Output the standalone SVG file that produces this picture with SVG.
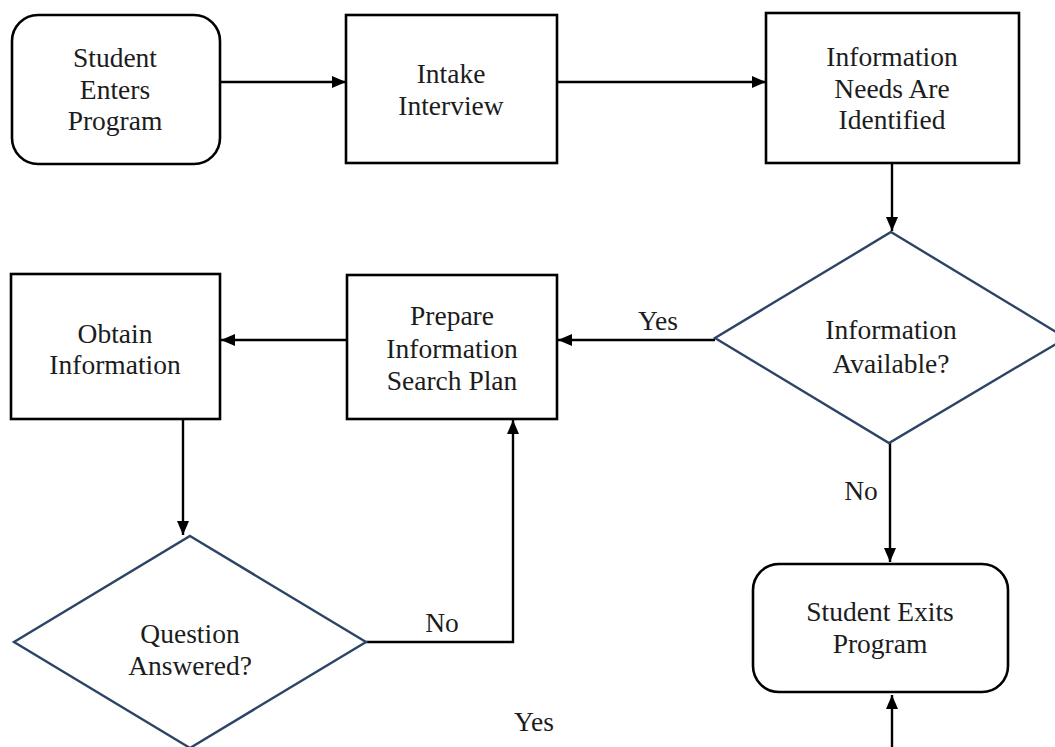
<svg xmlns="http://www.w3.org/2000/svg" width="1055" height="747" viewBox="0 0 1055 747">
  <defs>
    <marker id="arrow" markerUnits="userSpaceOnUse" markerWidth="14" markerHeight="12" refX="14" refY="6" orient="auto">
      <path d="M0,0 L14,6 L0,12 z" fill="#000"/>
    </marker>
    <style>
      .box { fill: #fff; stroke: #000; stroke-width: 2.6; }
      .dec { fill: #fff; stroke: #2c4567; stroke-width: 2.4; stroke-linejoin: miter; }
      .lbl { font-family: 'Liberation Serif', 'Times New Roman', serif; font-size: 27.5px; fill: #1c1c1c; text-anchor: middle; }
      .wire { fill: none; stroke: #000; stroke-width: 2.4; marker-end: url(#arrow); }
    </style>
  </defs>
  <rect width="1055" height="747" fill="#fff"/>

  <!-- flow lines and their branch labels -->
  <g id="connectors">
    <path class="wire" d="M220,82 H346"/>
    <path class="wire" d="M557,82 H766"/>
    <path class="wire" d="M892,163 V231"/>
    <path class="wire" d="M715,340 H558"/>
    <path class="wire" d="M346,340 H221"/>
    <path class="wire" d="M183,419 V535"/>
    <path class="wire" d="M366,642 H513 V420"/>
    <path class="wire" d="M890,443 V562"/>
    <path class="wire" d="M190,747 V775 H892 V695"/>
    <text class="lbl" x="658" y="330">Yes</text>
    <text class="lbl" x="442" y="632">No</text>
    <text class="lbl" x="861" y="500">No</text>
    <text class="lbl" x="534" y="731">Yes</text>
  </g>

  <g id="student-enters">
    <rect class="box" x="12" y="15" width="208" height="149" rx="26" ry="26"/>
    <text class="lbl" x="115" y="67">Student</text>
    <text class="lbl" x="115" y="99">Enters</text>
    <text class="lbl" x="115" y="130">Program</text>
  </g>

  <g id="intake-interview">
    <rect class="box" x="346" y="15" width="211" height="148"/>
    <text class="lbl" x="451" y="83">Intake</text>
    <text class="lbl" x="451" y="115">Interview</text>
  </g>

  <g id="needs-identified">
    <rect class="box" x="766" y="13" width="253" height="150"/>
    <text class="lbl" x="892" y="66">Information</text>
    <text class="lbl" x="892" y="98">Needs Are</text>
    <text class="lbl" x="892" y="129">Identified</text>
  </g>

  <g id="info-available">
    <polygon class="dec" points="891,232 1066,338 889,443 715,338"/>
    <text class="lbl" x="891" y="339">Information</text>
    <text class="lbl" x="891" y="373">Available?</text>
  </g>

  <g id="search-plan">
    <rect class="box" x="347" y="275" width="210" height="144"/>
    <text class="lbl" x="452" y="325">Prepare</text>
    <text class="lbl" x="452" y="358">Information</text>
    <text class="lbl" x="452" y="390">Search Plan</text>
  </g>

  <g id="obtain-info">
    <rect class="box" x="11" y="274" width="209" height="145"/>
    <text class="lbl" x="115" y="343">Obtain</text>
    <text class="lbl" x="115" y="374">Information</text>
  </g>

  <g id="question-answered">
    <polygon class="dec" points="190,536 366,642 190,748 14,642"/>
    <text class="lbl" x="190" y="643">Question</text>
    <text class="lbl" x="190" y="675">Answered?</text>
  </g>

  <g id="student-exits">
    <rect class="box" x="753" y="564" width="255" height="128" rx="26" ry="26"/>
    <text class="lbl" x="880" y="621">Student Exits</text>
    <text class="lbl" x="880" y="653">Program</text>
  </g>
</svg>
